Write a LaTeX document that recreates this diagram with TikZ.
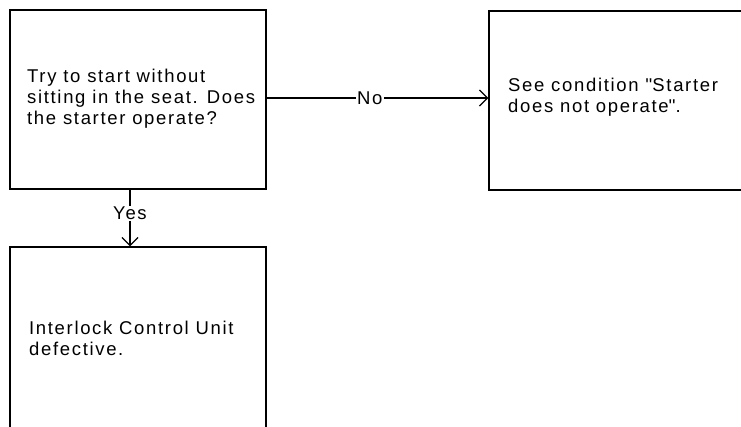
\documentclass[tikz,border=0pt]{standalone}
\usepackage{fontspec}
\setmainfont{Liberation Sans}[LetterSpace=9]
\usetikzlibrary{arrows.meta}
\tikzset{
  box/.style={draw, line width=1.3pt, rectangle, inner sep=0pt},
  txt/.style={anchor=north west, inner sep=0pt, align=left, font=\fontsize{18.5}{21}\selectfont},
  lbl/.style={fill=white, inner sep=1.5pt, font=\fontsize{18.5}{21}\selectfont},
  conn/.style={line width=1.3pt, -{Straight Barb[length=8pt,width=16pt,line width=1.3pt]}}
}
\newcommand{\qq}{\textquotesingle\textquotesingle}
\begin{document}
\begin{tikzpicture}[x=1pt,y=-1pt]
\useasboundingbox (0,0) rectangle (741,426);
\clip (0,0) rectangle (741,426);
\node[box, minimum width=256pt, minimum height=179pt] (b1) at (138,99.5) {};
\node[box, minimum width=280pt, minimum height=179pt] (b2) at (629,100.5) {};
\node[box, minimum width=256pt, minimum height=200pt] (b3) at (138,347) {};
\node[txt] (t1) at (27,69) {Try to start without\\sitting in the seat. Does\\the starter operate?};
\node[txt] (t2) at (508,78) {See condition \qq Starter\\does not operate\qq.};
\node[txt] (t3) at (29,321) {Interlock Control Unit\\defective.};
\draw[conn] (b1.east |- 0,98) -- (b2.west |- 0,98) node[lbl, pos=0.465] (no) {No};
\draw[conn] (b1.south -| 130,0) -- (b3.north -| 130,0) node[lbl, pos=0.42] (yes) {Yes};
\end{tikzpicture}
\end{document}
